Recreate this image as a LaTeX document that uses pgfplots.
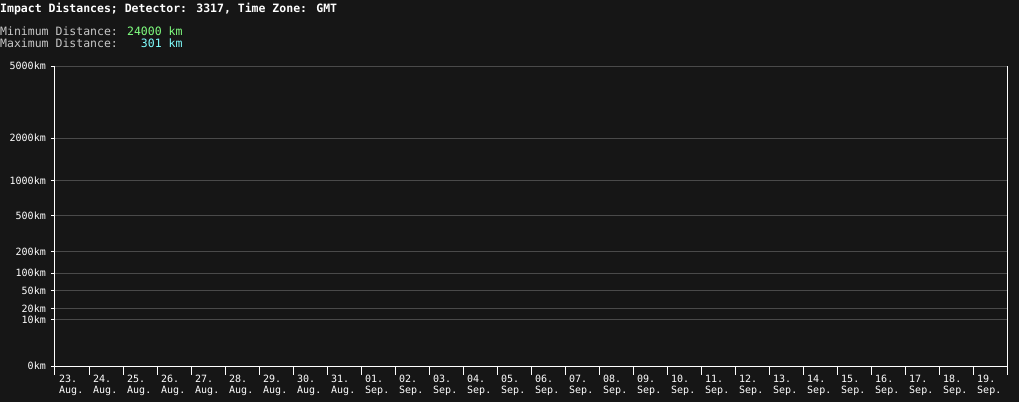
\documentclass[border=0pt]{standalone}
\usepackage{fontspec}
\usepackage{pgfplots}
\pgfplotsset{compat=1.18}
\newfontfamily\mono{DejaVu Sans Mono}
\definecolor{bg}{HTML}{161616}
\definecolor{gridgray}{HTML}{4A4A4A}
\definecolor{lgray}{HTML}{C8C8C8}
\definecolor{mingreen}{HTML}{80FF80}
\definecolor{maxcyan}{HTML}{80FFFF}
% two-line date label with fixed line heights
\newcommand\dl[2]{\strut#1\\\strut#2}

\begin{document}
\begin{tikzpicture}
\fill[bg] (0pt,0pt) rectangle (1019pt,-402pt);
\node[anchor=base west, inner sep=0, text=white, font=\mono\bfseries\fontsize{11.5}{12}\selectfont] at (0pt,-12pt) {Impact Distances; Detector: 3317, Time Zone: GMT};
\node[anchor=base west, inner sep=0, font=\mono\fontsize{11.5}{12}\selectfont] at (0pt,-35pt) {\textcolor{lgray}{Minimum Distance:} \textcolor{mingreen}{24000 km}};
\node[anchor=base west, inner sep=0, font=\mono\fontsize{11.5}{12}\selectfont] at (0pt,-47pt) {\textcolor{lgray}{Maximum Distance:} \phantom{24}\textcolor{maxcyan}{301 km}};

\begin{axis}[
  at={(55pt,-366pt)}, anchor=south west,
  scale only axis, width=952pt, height=300pt,
  xmin=0, xmax=28, ymin=0, ymax=12.8726,
  clip=false,
  axis x line*=bottom, axis y line*=left,
  axis line style={white, line width=1pt, -},
  tick align=outside, major tick length=4pt,
  tick style={white, line width=1pt},
  xtick={0,...,27},
  xtick style={draw=none},
  xticklabels={\dl{23.}{Aug.},\dl{24.}{Aug.},\dl{25.}{Aug.},\dl{26.}{Aug.},\dl{27.}{Aug.},\dl{28.}{Aug.},\dl{29.}{Aug.},\dl{30.}{Aug.},\dl{31.}{Aug.},
    \dl{01.}{Sep.},\dl{02.}{Sep.},\dl{03.}{Sep.},\dl{04.}{Sep.},\dl{05.}{Sep.},\dl{06.}{Sep.},\dl{07.}{Sep.},\dl{08.}{Sep.},\dl{09.}{Sep.},\dl{10.}{Sep.},
    \dl{11.}{Sep.},\dl{12.}{Sep.},\dl{13.}{Sep.},\dl{14.}{Sep.},\dl{15.}{Sep.},\dl{16.}{Sep.},\dl{17.}{Sep.},\dl{18.}{Sep.},\dl{19.}{Sep.}},
  x tick label style={anchor=north west, align=left, inner sep=0pt, xshift=4pt, yshift=-4pt,
    font=\mono\fontsize{10}{11.5}\selectfont, text=white},
  ytick={0,1.99526,2.45646,3.23366,3.98107,4.90142,6.45177,7.94328,9.77949,12.8726},
  yticklabels={0km,10km,20km,50km,100km,200km,500km,1000km,2000km,5000km},
  y tick label style={font=\mono\fontsize{10}{12}\selectfont, text=white, inner sep=0pt, xshift=-5pt},
  ymajorgrids, grid style={gridgray, line width=1pt},
]
\pgfplotsinvokeforeach{0,...,28}{
  \draw[white, line width=1pt] (axis cs:#1,0) -- ++(0pt,-9pt);
}
\draw[white, line width=1pt] (axis cs:28,12.8726) -- (axis cs:28,0);
\end{axis}
\end{tikzpicture}
\end{document}
